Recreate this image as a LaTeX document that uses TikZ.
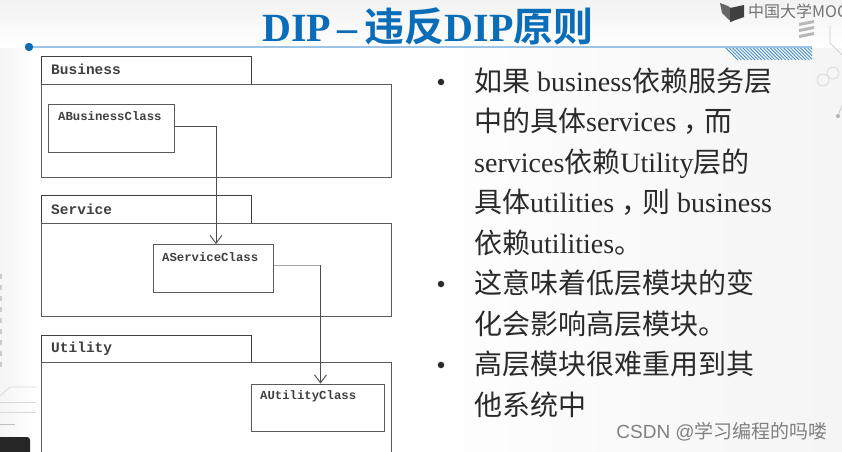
\documentclass[tikz,border=0pt]{standalone}
\usepackage{fontspec}
\setmainfont{Liberation Serif}
\setmonofont{Liberation Mono}
\setsansfont{Liberation Sans}
\newfontfamily\cjk{Noto Sans CJK SC}
\newfontfamily\cjkb{Noto Sans CJK SC}[BoldFont={Noto Sans CJK SC Bold}]
\usetikzlibrary{arrows.meta,patterns}
\definecolor{titleblue}{HTML}{0B6DB8}
\definecolor{rulecol}{HTML}{9CC4E4}
\definecolor{boxcol}{HTML}{5A5A5A}
\definecolor{txtcol}{HTML}{2A2A2A}
\newcommand{\C}[1]{{\cjk #1}}
\newcommand{\CM}{\kern7pt{\cjk ，}\kern-7pt}
\tikzset{
 x=1pt,y=-1pt,
 pack/.style={draw=boxcol,line width=1pt,fill=white},
 tabbox/.style={draw=boxcol!70!black,line width=1pt,fill=white},
 cls/.style={draw=boxcol,line width=1pt,fill=white},
 lbl/.style={font=\ttfamily\bfseries\fontsize{14.5}{16}\selectfont,text=black!75,anchor=west,inner sep=0pt},
 clslbl/.style={font=\ttfamily\bfseries\fontsize{12.3}{14}\selectfont,text=black!75,anchor=west,inner sep=0pt},
 dep/.style={draw=black!70,line width=0.9pt,-{Straight Barb[length=8pt,width=12pt,line width=0.9pt]}},
 body/.style={font=\fontsize{28}{32}\selectfont,text=txtcol,anchor=base west,inner sep=0pt},
 bul/.style={circle,fill=txtcol,inner sep=0pt,minimum size=6.5pt}
}
\begin{document}
\begin{tikzpicture}
\useasboundingbox (0,0) rectangle (842,451);
\fill[white] (0,0) rectangle (842,451);
\fill[top color=black!5,bottom color=white] (0,0) rectangle (842,48);
\fill[left color=black!4,right color=white] (0,48) rectangle (36,451);
\fill[left color=white,right color=black!4] (400,48) rectangle (842,451);
% background circuit decoration
\foreach \yy in {274,285,296,307,318,329,340,351,362}{\fill[black!20] (0,\yy) rectangle (1.5,\yy+5);}
\draw[black!15,line width=.7pt] (0,396) -- (10,387) -- (36,387);
\draw[black!15,line width=.7pt] (0,402) -- (36,402);
\draw[black!15,line width=.7pt] (0,412) -- (36,412);
\draw[black!25,line width=.7pt] (0,424) -- (15,424);
\fill[black!85,rounded corners=3pt] (-5,437) rectangle (30,456);
\draw[black!20,line width=.7pt] (830,25) -- (830,43) -- (842,55);
\draw[black!15,line width=.7pt] (823,80) circle (6);
\draw[black!15,line width=.7pt] (833,73) circle (6);
\draw[black!20,line width=.7pt] (838,116) -- (842,105);
\fill[black!30] (838,116) circle (2);
\foreach \yy in {20,26,32}{\fill[black!28] (799,\yy+3) -- (814,\yy) -- (814,\yy+3) -- (799,\yy+6) -- cycle;}
% title
\node[anchor=center,inner sep=0pt,text=titleblue] (title) at (428,26) {\fontsize{40}{44}\selectfont\bfseries DIP\,–\,{\cjkb\bfseries 违反}DIP{\cjkb\bfseries 原则}};
% rule
\coordinate (ruleL) at (29,47);
\coordinate (ruleR) at (812,47);
\begin{scope}
\clip (725,48) rectangle (812,60);
\foreach \i in {0,...,26}{\draw[titleblue!80,line width=.8pt] (725+\i*3.4,47) -- (738+\i*3.4,60);}
\end{scope}
\draw[rulecol,line width=1.5pt] (ruleL) -- (ruleR);
\fill[titleblue] (ruleL) circle (4.2);
% MOOC logo
\fill[black!60] (720,3) -- (728,6) -- (732,9) -- (732,22) -- (728,19) -- (722,13) -- cycle;
\fill[black!75] (730,8) -- (744,5) -- (744,17) -- (730,22) -- cycle;
\node[anchor=west,inner sep=0pt,text=black!55] (logo) at (748,11) {\cjk\fontsize{16}{18}\selectfont 中国大学MOC};
% packages
\node[tabbox,anchor=north west,minimum width=209.5pt,minimum height=28pt,inner sep=0pt] (bt) at (41,55.5) {};
\node[lbl] at (51,69.5) {Business};
\node[pack,anchor=north west,minimum width=350pt,minimum height=93pt,inner sep=0pt] (bp) at (41,83.5) {};
\node[cls,anchor=north west,minimum width=126pt,minimum height=47.5pt,inner sep=0pt] (ac) at (48,104) {};
\node[clslbl] at (58,116.5) {ABusinessClass};
\node[tabbox,anchor=north west,minimum width=209.5pt,minimum height=28pt,inner sep=0pt] (st) at (41,195) {};
\node[lbl] at (51,209) {Service};
\node[pack,anchor=north west,minimum width=350pt,minimum height=93pt,inner sep=0pt] (sp) at (41,222.5) {};
\node[cls,anchor=north west,minimum width=120pt,minimum height=47.5pt,inner sep=0pt] (sc) at (152.5,244) {};
\node[clslbl] at (162,257) {AServiceClass};
\node[tabbox,anchor=north west,minimum width=209.5pt,minimum height=28pt,inner sep=0pt] (ut) at (41,334.5) {};
\node[lbl] at (51,348.5) {Utility};
\node[pack,anchor=north west,minimum width=350pt,minimum height=95pt,inner sep=0pt] (up) at (41,362) {};
\node[cls,anchor=north west,minimum width=133pt,minimum height=47.5pt,inner sep=0pt] (uc) at (250.5,383.5) {};
\node[clslbl] at (260,396.5) {AUtilityClass};
% connectors
\draw[dep] (ac.east|-0,126) -| (sc.north-|216,0);
\draw[dep] (sc.east|-0,265) -| (uc.north-|320.5,0);
\draw[black!35,line width=.9pt] (sc.east|-0,265) -- (320,265);
% text
\node[bul] (b1) at (441,82) {};
\node[body] (l1) at (474,91) {\C{如果} business\C{依赖服务层}};
\node[body] (l2) at (474,131.5) {\C{中的具体}services\CM\C{而}};
\node[body] (l3) at (474,172) {services\C{依赖}Utility\C{层的}};
\node[body] (l4) at (474,212.5) {\C{具体}utilities\CM\C{则} business};
\node[body] (l5) at (474,253) {\C{依赖}utilities\C{。}};
\node[bul] (b2) at (441,284) {};
\node[body] (l6) at (474,293.5) {\C{这意味着低层模块的变}};
\node[body] (l7) at (474,334) {\C{化会影响高层模块。}};
\node[bul] (b3) at (441,365) {};
\node[body] (l8) at (474,374.5) {\C{高层模块很难重用到其}};
\node[body] (l9) at (474,415) {\C{他系统中}};
\node[anchor=east,inner sep=0pt,text=black!50] (wm) at (828,432) {\fontsize{19}{22}\selectfont\sffamily CSDN @\C{学习编程的吗喽}};
\end{tikzpicture}
\end{document}
